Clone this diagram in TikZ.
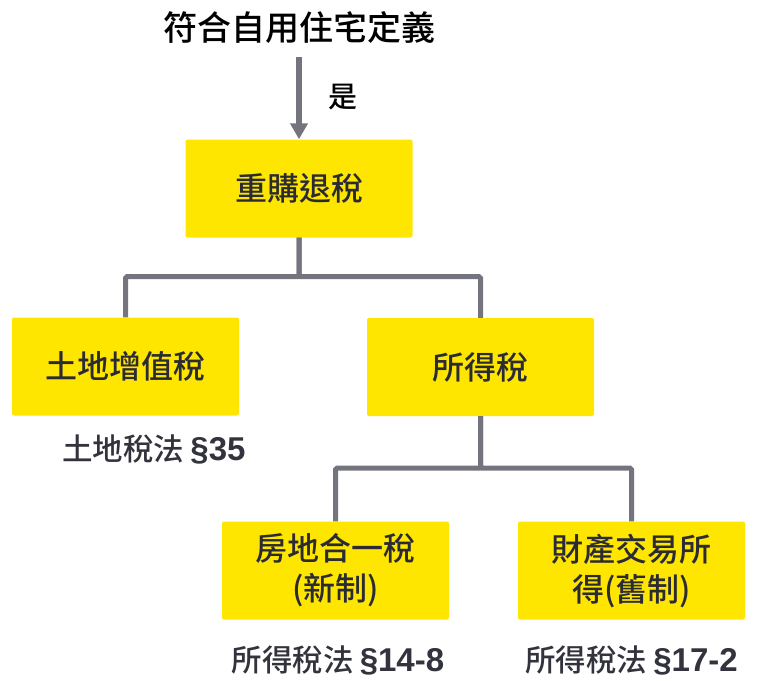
\documentclass[tikz,border=0pt]{standalone}
\usepackage{fontspec}
\setmainfont{Noto Sans CJK TC}[UprightFont={* Medium}, BoldFont={* Bold}]
\newfontfamily\latinsans{Liberation Sans}[BoldFont={* Bold}]
\usetikzlibrary{arrows.meta}
\definecolor{boxyellow}{HTML}{FFE600}
\definecolor{conngray}{HTML}{74747F}
\definecolor{boxtext}{HTML}{2B2B33}
\definecolor{lawtext}{HTML}{33333D}
\newcommand{\sect}[1]{\hspace{6pt}{\latinsans\bfseries\fontsize{33}{36}\selectfont §#1}}
\tikzset{
  taxbox/.style={fill=boxyellow, rounded corners=2pt, minimum width=227pt, minimum height=98pt,
    text=boxtext, font=\fontsize{32}{40}\selectfont, align=center, inner sep=0pt},
  conn/.style={draw=conngray, line width=5pt, rounded corners=1.5pt},
  lawlabel/.style={text=lawtext, font=\fontsize{30.5}{34}\selectfont, inner sep=0pt},
}
\begin{document}
\begin{tikzpicture}[x=1pt,y=-1pt]
\useasboundingbox (0,0) rectangle (757,680);
\node[font=\fontsize{34}{38}\selectfont, text=black, inner sep=0pt] (title) at (299,28) {符合自用住宅定義};
\coordinate (a0) at (299,57);
\node[taxbox] (buy) at (299,188.5) {重購退稅};
\node[font=\fontsize{29}{32}\selectfont, text=black, inner sep=0pt] (yes) at (343,97) {是};
\node[taxbox] (land) at (125.5,366.5) {土地增值稅};
\node[taxbox] (inc) at (480.5,367) {所得稅};
\node[taxbox] (new) at (335.5,570.5) {房地合一稅\\(新制)};
\node[taxbox] (old) at (631.5,570.5) {財產交易所\\得(舊制)};
\node[lawlabel] (lawland) at (154,449) {土地稅法\sect{35}};
\node[lawlabel] (lawnew) at (338,660) {所得稅法\sect{14-8}};
\node[lawlabel] (lawold) at (631.5,660) {所得稅法\sect{17-2}};
\draw[draw=conngray, line width=5.5pt, -{Triangle[width=17pt,length=16pt]}] (a0) -- (buy.north);
\draw[conn] (buy.south) -- ++(0,39) -| (land.north);
\draw[conn] (buy.south) -- ++(0,39) -| (inc.north);
\draw[conn] (inc.south) -- ++(0,52) -| (new.north);
\draw[conn] (inc.south) -- ++(0,52) -| (old.north);
\end{tikzpicture}
\end{document}
